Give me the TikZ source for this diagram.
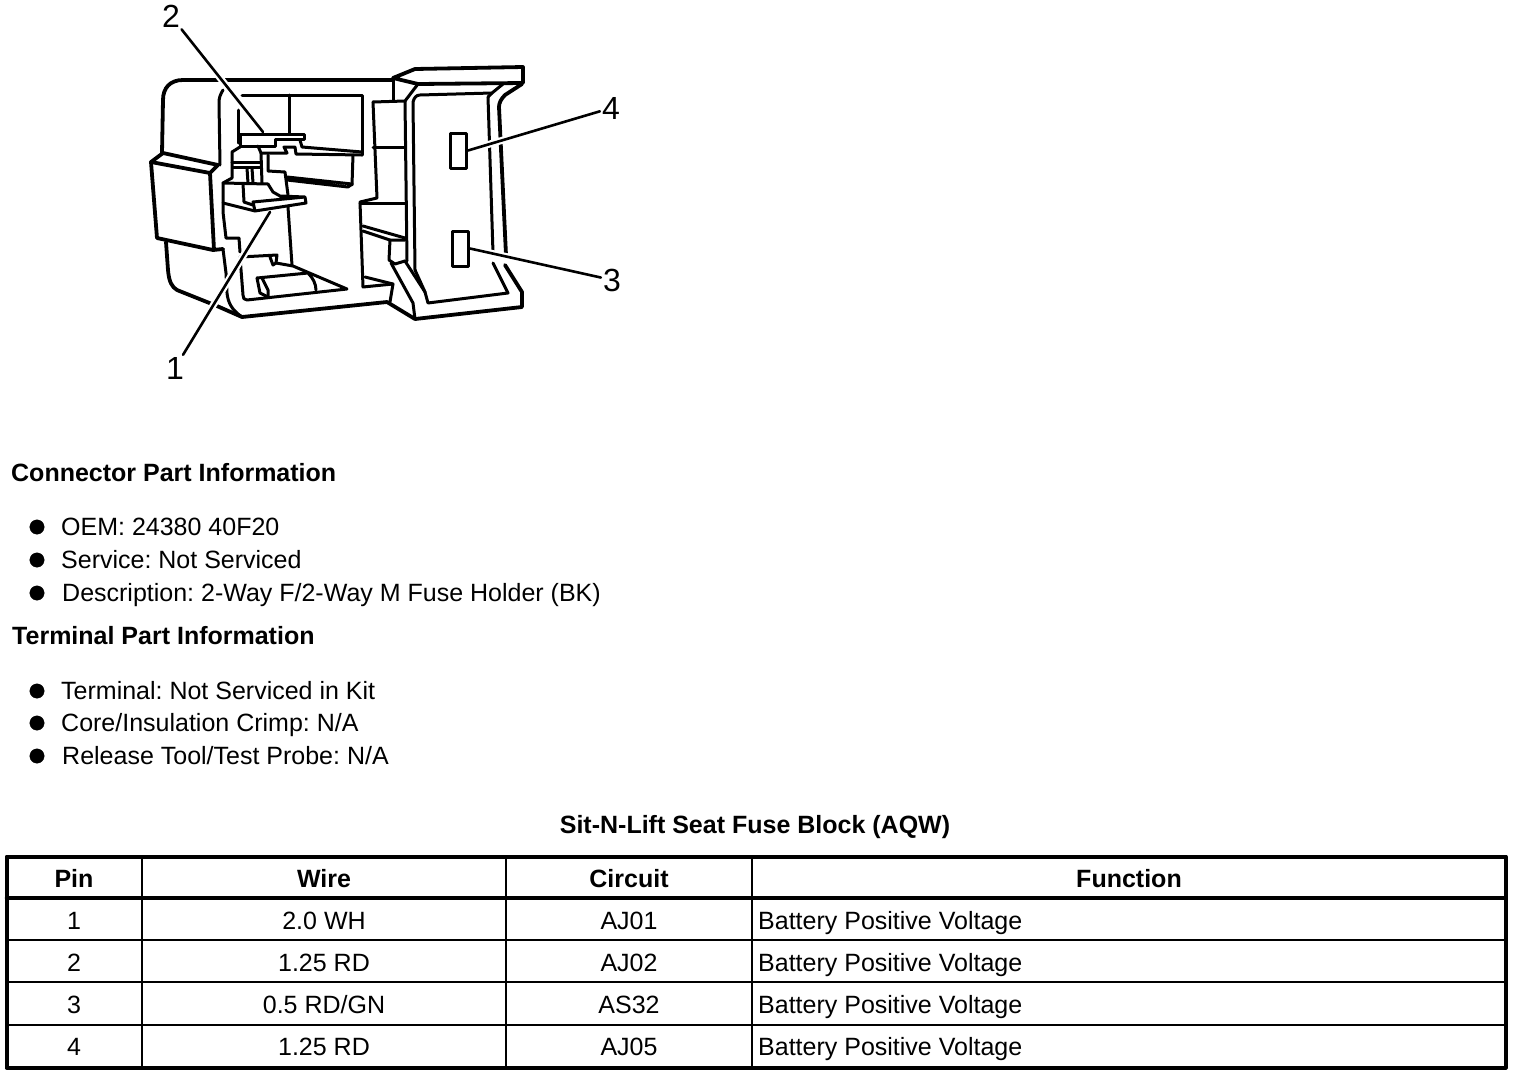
\documentclass[tikz,border=0pt]{standalone}
\usepackage{fontspec}
\setmainfont{Liberation Sans}
\usepackage{tikz}

\begin{document}
\frenchspacing
\begin{tikzpicture}[x=1pt,y=-1pt,line join=round,line cap=round]
            \tikzstyle{heavy}=[draw=black,line width=3.8pt]
            \tikzstyle{light}=[draw=black,line width=3pt]
            \tikzstyle{leader}=[draw=black,line width=2.6pt,preaction={draw=white,line width=7pt,shorten >=6pt,shorten <=5pt}]
            \tikzstyle{pinbox}=[rectangle,draw=black,line width=3pt,fill=white,inner sep=0pt,minimum width=16pt,minimum height=35pt]
            \tikzstyle{callout}=[inner sep=2pt,font=\fontsize{32}{32}\selectfont]
            \tikzstyle{txt}=[inner sep=0pt,anchor=base west,font=\fontsize{25}{25}\selectfont]
            \tikzstyle{bold}=[inner sep=0pt,anchor=base west,font=\fontsize{25}{25}\selectfont\bfseries]
            \tikzstyle{cell}=[inner sep=0pt,anchor=base,font=\fontsize{25}{25}\selectfont]
            \tikzstyle{head}=[inner sep=0pt,anchor=base,font=\fontsize{25}{25}\selectfont\bfseries]
            \useasboundingbox (0,0) rectangle (1520,1074);

            % outer shell
            \draw[heavy] (393,80) -- (183,80) .. controls (170,80) and (163,88) .. (163,100) -- (162,153);
            \draw[heavy] (163,153) -- (151,162) -- (157,238) -- (213,250) -- (223,249);
            \draw[heavy] (163,153) -- (218,165) -- (210,173);
            \draw[heavy] (151,162) -- (210,173) -- (214,250);
            \draw[heavy] (166,242) -- (168,270) .. controls (169,282) and (172,287) .. (177,290) -- (217,306) -- (242,317) -- (387,302) -- (415,319);
            \draw[light] (223,249) -- (226,273) -- (227,293) .. controls (228,303) and (232,310) .. (242,317);
            \draw[light] (223,90) .. controls (220,95) and (219,98) .. (219,103) -- (220,165);

            % upper window
            \draw[light] (242,95) -- (362,95) -- (362,155);
            \draw[light] (238,110) -- (238,143);
            \draw[light] (289,95) -- (289,133);
            \draw[light] (240,134) -- (304,134) -- (304,139) -- (275,139) -- (275,146) -- (240,146) -- cycle;
            \draw[light] (258,146) -- (261,153) -- (287,153) -- (284,147) -- (295,147) -- (296,154) -- (362,155);
            \draw[light] (300,140) -- (302,147) -- (362,152);

            % latch
            \draw[light] (240,147) -- (232,152) -- (232,178) -- (223,183) -- (223,212) -- (226,238) -- (239,238) -- (240,252);
            \draw[light] (232,162) -- (260,162);
            \draw[light] (233,167) -- (260,167);
            \draw[light] (261,153) -- (262,183);
            \draw[light] (247,168) -- (248,183);
            \draw[light] (252,168) -- (253,183);
            \draw[light] (268,155) -- (268,171) -- (285,172) -- (288,195);
            \draw[light] (353,155) -- (352,185);
            \draw[light] (287,177) -- (352,184) -- (348,187) -- (287,180);
            \draw[light] (223,183) -- (268,184) -- (273,192) -- (280,196) -- (305,197) -- (306,203) -- (255,211) -- (253,202) -- (305,197);
            \draw[light] (243,184) -- (244,202) -- (253,205);
            \draw[light] (223,203) -- (255,211);
            \draw[light] (288,207) -- (292,265);

            % lower recess
            \draw[light] (240,257) -- (277,255) -- (276,263) -- (273,265) -- (270,257);
            \draw[light] (276,263) -- (293,266) -- (347,289) -- (247,300) .. controls (244,300) and (243,298) .. (243,295) -- (240,257);
            \draw[light] (257,278) -- (260,293) -- (268,297);
            \draw[light] (257,278) -- (308,273) .. controls (313,278) and (316,284) .. (316,290);
            \draw[light] (262,278) -- (268,290) -- (268,297);

            % middle block
            \draw[light] (373,102) -- (377,198) -- (360,202) -- (363,287) -- (393,284) -- (390,302);
            \draw[light] (360,203) -- (405,203);
            \draw[light] (373,147) -- (405,147);
            \draw[light] (363,226) -- (405,238);
            \draw[light] (363,231) -- (390,240) -- (405,240);
            \draw[light] (390,240) -- (389,260) -- (395,264) -- (405,261);
            \draw[light] (365,277) -- (393,284);

            % front plate
            \draw[heavy] (393,78) -- (415,69) -- (523,67) -- (523,83) -- (418,84) -- cycle;
            \draw[light] (393,78) -- (393,100);
            \draw[light] (373,102) -- (405,101) -- (418,84);
            \draw[light] (405,101) -- (407,261);
            \draw[light] (415,270) -- (413,102) .. controls (414,98) and (416,95) .. (420,95) -- (492,93) -- (503,84);
            \draw[light] (488,97) -- (492,93);
            \draw[light] (488,97) -- (493,253);
            \draw[heavy] (522,84) -- (505,95) .. controls (501,99) and (499,103) .. (499,107) -- (506,255);
            \draw[light] (391,263) -- (413,303) -- (415,319);
            \draw[light] (405,261) -- (425,292) -- (428,303) -- (508,293) -- (493,263);
            \draw[light] (415,270) -- (425,292);
            \draw[heavy] (505,265) -- (522,292) -- (522,307) -- (415,319);

            % pins and callouts
            \node[pinbox] (P4) at (458.5,150.5) {};
            \node[pinbox] (P3) at (460.5,248.5) {};
            \node[callout] (L1) at (175,368) {1};
            \node[callout] (L2) at (171,16) {2};
            \node[callout] (L3) at (612,280) {3};
            \node[callout] (L4) at (611,108) {4};
            \coordinate (T1) at (270,212);
            \coordinate (T2) at (263,132);
            \draw[leader] (L1) -- (T1);
            \draw[leader] (L2) -- (T2);
            \draw[leader] (L3) -- (P3.east);
            \draw[leader] (L4) -- (P4.east);

            % part information
            \node[bold] (H1) at (11,481) {Connector Part Information};
            \node[bold] (H2) at (12,644) {Terminal Part Information};
            \foreach \num/\x/\y/\txt in {1/61/535/{OEM: 24380 40F20}, 2/61/568/{Service: Not Serviced}, 3/62/601/{Description: 2-Way F/2-Way M Fuse Holder (BK)}, 4/61/699/{Terminal: Not Serviced in Kit}, 5/61/731/{Core/Insulation Crimp: N/A}, 6/62/764/{Release Tool/Test Probe: N/A}} {
                \filldraw[black] (37,\y-8) circle (7.2pt);
                \node[txt] (B-\num) at (\x,\y) {\txt};
            }

            % table
            \node[head] (T) at (755,833) {Sit-N-Lift Seat Fuse Block (AQW)};
            \draw[draw=black,line width=4pt] (6.5,856.5) rectangle (1505.5,1067.5);
            \draw[draw=black,line width=3.4pt] (6.5,898) -- (1505.5,898);
            \draw[draw=black,line width=1.6pt] (6.5,940) -- (1505.5,940);
            \draw[draw=black,line width=1.6pt] (6.5,982) -- (1505.5,982);
            \draw[draw=black,line width=2.6pt] (6.5,1025) -- (1505.5,1025);
            \foreach \x in {142,506,752}
                \draw[draw=black,line width=1.6pt] (\x,856.5) -- (\x,1067.5);
            \node[head] (C-1) at (74,887) {Pin};
            \node[head] (C-2) at (324,887) {Wire};
            \node[head] (C-3) at (629,887) {Circuit};
            \node[head] (C-4) at (1129,887) {Function};
            \foreach \num/\y/\wire/\cir in {1/929/{2.0 WH}/AJ01, 2/971/{1.25 RD}/AJ02, 3/1013/{0.5 RD/GN}/AS32, 4/1055/{1.25 RD}/AJ05} {
                \node[cell] (R-\num-1) at (74,\y) {\num};
                \node[cell] (R-\num-2) at (324,\y) {\wire};
                \node[cell] (R-\num-3) at (629,\y) {\cir};
                \node[txt] (R-\num-4) at (758,\y) {Battery Positive Voltage};
            }
\end{tikzpicture}
\end{document}
